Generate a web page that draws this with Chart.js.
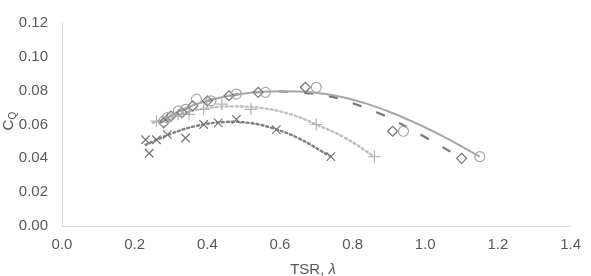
<!DOCTYPE html>
<html>
<head>
<meta charset="utf-8">
<script src="https://cdn.jsdelivr.net/npm/chart.js@4.4.1/dist/chart.umd.min.js"></script>
<style>
  html, body { margin: 0; padding: 0; background: #fff; }
  #wrap { width: 591px; height: 276px; }
</style>
</head>
<body>
<div id="wrap"><canvas id="chart" width="591" height="276"></canvas></div>
<script>
// points
const circleX  = [0.28, 0.29, 0.32, 0.34, 0.37, 0.41, 0.48, 0.56, 0.70, 0.94, 1.15];
const circleY  = [0.062, 0.064, 0.068, 0.069, 0.075, 0.074, 0.078, 0.079, 0.082, 0.056, 0.041];
const diamondX = [0.28, 0.30, 0.33, 0.36, 0.40, 0.46, 0.54, 0.67, 0.91, 1.10];
const diamondY = [0.061, 0.065, 0.067, 0.071, 0.074, 0.077, 0.079, 0.082, 0.056, 0.040];
const plusX    = [0.26, 0.29, 0.32, 0.35, 0.39, 0.44, 0.52, 0.70, 0.86];
const plusY    = [0.062, 0.064, 0.066, 0.066, 0.069, 0.072, 0.069, 0.060, 0.041];
const crossX   = [0.23, 0.24, 0.26, 0.29, 0.34, 0.39, 0.43, 0.48, 0.59, 0.74];
const crossY   = [0.051, 0.043, 0.051, 0.054, 0.052, 0.060, 0.061, 0.063, 0.057, 0.041];

// trend lines
const trendCircleX  = [0.27, 0.35, 0.45, 0.55, 0.65, 0.75, 0.84, 0.93, 1.04, 1.15];
const trendCircleY  = [0.062, 0.0705, 0.0765, 0.0793, 0.0795, 0.0772, 0.0722, 0.0650, 0.0540, 0.041];
const trendDiamondX = [0.27, 0.35, 0.45, 0.55, 0.65, 0.74, 0.81, 0.88, 1.00, 1.10];
const trendDiamondY = [0.061, 0.070, 0.0765, 0.0793, 0.079, 0.0765, 0.0718, 0.0660, 0.0525, 0.040];
const trendPlusX    = [0.25, 0.32, 0.40, 0.47, 0.55, 0.63, 0.70, 0.78, 0.86];
const trendPlusY    = [0.061, 0.066, 0.0697, 0.0707, 0.0697, 0.066, 0.060, 0.052, 0.041];
const trendCrossX   = [0.23, 0.30, 0.37, 0.45, 0.52, 0.58, 0.65, 0.74];
const trendCrossY   = [0.048, 0.0545, 0.0592, 0.0615, 0.0608, 0.0578, 0.052, 0.041];

const xTicks = [0, 0.2, 0.4, 0.6, 0.8, 1.0, 1.2, 1.4];
const yTicks = [0, 0.02, 0.04, 0.06, 0.08, 0.10, 0.12];

function pts(xs, ys) {
    return xs.map((x, i) => ({x: x, y: ys[i]}));
}

function marks(xs, ys, style, color, r) {
    return {
        data: pts(xs, ys),
        showLine: false,
        pointStyle: style,
        pointRadius: r,
        pointBorderColor: color,
        pointBackgroundColor: 'rgba(0,0,0,0)',
        pointBorderWidth: 1.2,
        order: 1
    };
}

function trend(xs, ys, color, dash, width) {
    return {
        data: pts(xs, ys),
        showLine: true,
        pointRadius: 0,
        borderColor: color,
        borderWidth: width,
        borderDash: dash,
        borderCapStyle: dash.length && dash[0] < 3 ? 'round' : 'butt',
        tension: 0.4,
        fill: false,
        order: 2
    };
}

// titles: C with subscript Q, and TSR, λ with italic lambda
const titles = {
    id: 'titles',
    afterDraw(chart) {
        const c = chart.ctx;
        c.save();
        c.fillStyle = '#595959';
        c.translate(8, 122);
        c.rotate(-Math.PI / 2);
        c.font = '15px "Liberation Sans", Arial, sans-serif';
        c.textBaseline = 'alphabetic';
        c.textAlign = 'left';
        const cw = c.measureText('C').width;
        c.fillText('C', -cw / 2 - 3, 5);
        c.font = '10px "Liberation Sans", Arial, sans-serif';
        c.fillText('Q', cw / 2 - 3, 8);
        c.restore();

        c.save();
        c.fillStyle = '#595959';
        c.textBaseline = 'middle';
        c.textAlign = 'left';
        c.font = '15px "Liberation Sans", Arial, sans-serif';
        const a = 'TSR, ';
        const aw = c.measureText(a).width;
        c.font = 'italic 15px "Liberation Sans", Arial, sans-serif';
        const lw = c.measureText('λ').width;
        const x0 = 313 - (aw + lw) / 2;
        c.font = '15px "Liberation Sans", Arial, sans-serif';
        c.fillText(a, x0, 270);
        c.font = 'italic 15px "Liberation Sans", Arial, sans-serif';
        c.fillText('λ', x0 + aw, 270);
        c.restore();
    }
};

const ctx = document.getElementById('chart');

const chart = new Chart(ctx, {
    type: 'scatter',
    data: {
        datasets: [
            marks(circleX, circleY, 'circle', '#a6a6a6', 5),
            marks(diamondX, diamondY, 'rectRot', '#767676', 5),
            marks(plusX, plusY, 'cross', '#b3b3b3', 6),
            marks(crossX, crossY, 'crossRot', '#767676', 6),
            trend(trendCircleX, trendCircleY, '#a6a6a6', [], 2),
            trend(trendDiamondX, trendDiamondY, '#767676', [9, 16], 2.2),
            trend(trendPlusX, trendPlusY, '#bfbfbf', [2, 3], 2.4),
            trend(trendCrossX, trendCrossY, '#7f7f7f', [2, 3], 2.4)
        ]
    },
    options: {
        responsive: false,
        animation: false,
        layout: { padding: { left: 0, right: 20, top: 18, bottom: 0 } },
        plugins: {
            legend: { display: false },
            tooltip: { enabled: false }
        },
        scales: {
            x: {
                type: 'linear',
                min: 0,
                max: 1.4,
                afterBuildTicks: s => { s.ticks = xTicks.map(v => ({value: v})); },
                afterFit: s => { s.height = 50; },
                grid: { color: 'rgba(0,0,0,0)', drawTicks: false },
                border: { display: true, color: '#d9d9d9', width: 1 },
                ticks: {
                    padding: 10,
                    color: '#595959',
                    font: { family: '"Liberation Sans", Arial, sans-serif', size: 15 },
                    callback: v => v.toFixed(1),
                    maxRotation: 0
                }
            },
            y: {
                type: 'linear',
                min: 0,
                max: 0.12,
                afterBuildTicks: s => { s.ticks = yTicks.map(v => ({value: v})); },
                afterFit: s => { s.width = 62; },
                grid: { color: 'rgba(0,0,0,0)', drawTicks: false },
                border: { display: true, color: '#d9d9d9', width: 1 },
                ticks: {
                    padding: 14,
                    color: '#595959',
                    font: { family: '"Liberation Sans", Arial, sans-serif', size: 15 },
                    callback: v => v.toFixed(2)
                }
            }
        }
    },
    plugins: [titles]
});
</script>
</body>
</html>
